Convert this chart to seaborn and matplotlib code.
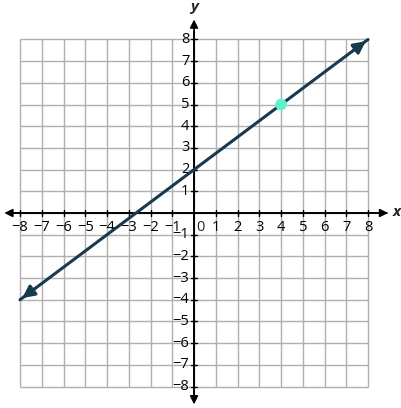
import numpy as np
import pandas as pd
import matplotlib
matplotlib.use("Agg")
import matplotlib.pyplot as plt
import seaborn as sns

# data
ticks = list(range(-8, 9))
line_x = [-8, 8]
line_y = [-4, 8]
point_x = [4]
point_y = [5]

sns.set_theme(style="white")
plt.rcParams['font.family'] = ['Open Sans', 'DejaVu Sans']

fig = plt.figure(figsize=(4.02, 4.08), dpi=100)
ax = fig.add_axes([0, 0, 1, 1])
ax.set_xlim(-8.92, 9.56)
ax.set_ylim(-8.99, 9.82)
ax.axis("off")

grid_c = "#b0b0b0"
ax.vlines(ticks, -8, 8, color=grid_c, lw=1, zorder=1)
ax.hlines(ticks, -8, 8, color=grid_c, lw=1, zorder=1)

# axes with arrows
ax.annotate("", xy=(-8.85, 0), xytext=(9.0, 0),
            arrowprops=dict(arrowstyle="-|>", color="black", lw=1.2, mutation_scale=12), zorder=3)
ax.annotate("", xy=(9.05, 0), xytext=(-8.5, 0),
            arrowprops=dict(arrowstyle="-|>", color="black", lw=1.2, mutation_scale=12), zorder=3)
ax.annotate("", xy=(0, 9.05), xytext=(0, -8.5),
            arrowprops=dict(arrowstyle="-|>", color="black", lw=1.2, mutation_scale=12), zorder=3)
ax.annotate("", xy=(0, -8.95), xytext=(0, 8.5),
            arrowprops=dict(arrowstyle="-|>", color="black", lw=1.2, mutation_scale=12), zorder=3)

tl = 0.15
for t in ticks:
    if t == 0:
        continue
    ax.plot([t, t], [-tl, tl], color="black", lw=1, zorder=3)
    ax.plot([-tl, tl], [t, t], color="black", lw=1, zorder=3)
    ax.text(t, -0.3, "\u2212%d" % -t if t < 0 else str(t), ha="center", va="top",
            fontsize=10.5, color="black", zorder=4)
    ax.text(-0.22, t, "\u2212%d" % -t if t < 0 else str(t), ha="right", va="center",
            fontsize=10.5, color="black", zorder=4)
ax.text(0.3, -0.3, "0", ha="center", va="top", fontsize=10.5, zorder=4)
ax.text(9.3, 0.05, "x", ha="center", va="center", fontsize=11,
        style="italic", fontweight="bold")
ax.text(0, 9.5, "y", ha="center", va="center", fontsize=11,
        style="italic", fontweight="bold")

# the line
line_c = "#173a4f"
df = pd.DataFrame({"x": line_x, "y": line_y})
sns.lineplot(data=df, x="x", y="y", ax=ax, color=line_c, lw=2.2, zorder=5)
ax.annotate("", xy=(line_x[0], line_y[0]), xytext=(line_x[0] + 0.8, line_y[0] + 0.6),
            arrowprops=dict(arrowstyle="-|>", color=line_c, lw=2.2, mutation_scale=18), zorder=5)
ax.annotate("", xy=(line_x[1], line_y[1]), xytext=(line_x[1] - 0.8, line_y[1] - 0.6),
            arrowprops=dict(arrowstyle="-|>", color=line_c, lw=2.2, mutation_scale=18), zorder=5)

sns.scatterplot(x=point_x, y=point_y, ax=ax, color="#5ff2cf", s=70,
                edgecolor="none", zorder=6)
ax.set_xlim(-8.92, 9.56)
ax.set_ylim(-8.99, 9.82)
ax.axis("off")

fig.savefig("out.png", dpi=100)
